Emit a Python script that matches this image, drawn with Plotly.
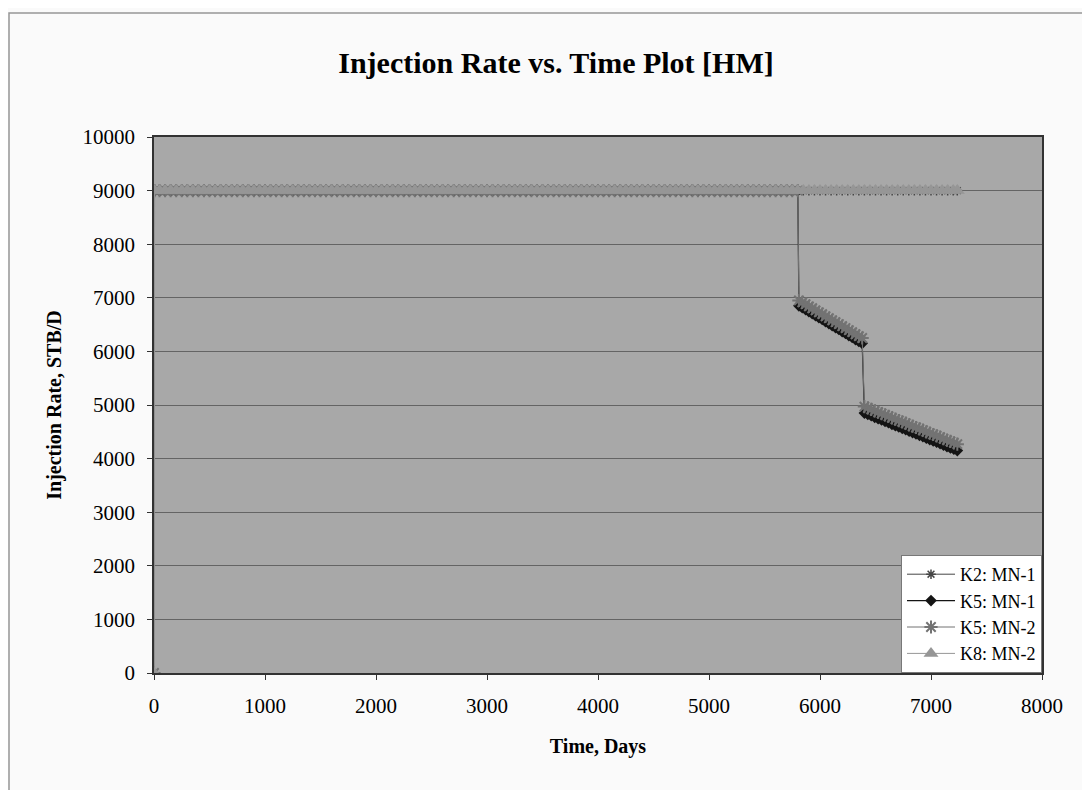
import plotly.graph_objects as go

# ---------------- data ----------------
# days for the series that stay at 9000 until the end of history
days_long = [0, 5,
             50, 100, 150, 200, 250, 300, 350, 400, 450, 500,
             550, 600, 650, 700, 750, 800, 850, 900, 950, 1000,
             1050, 1100, 1150, 1200, 1250, 1300, 1350, 1400, 1450, 1500,
             1550, 1600, 1650, 1700, 1750, 1800, 1850, 1900, 1950, 2000,
             2050, 2100, 2150, 2200, 2250, 2300, 2350, 2400, 2450, 2500,
             2550, 2600, 2650, 2700, 2750, 2800, 2850, 2900, 2950, 3000,
             3050, 3100, 3150, 3200, 3250, 3300, 3350, 3400, 3450, 3500,
             3550, 3600, 3650, 3700, 3750, 3800, 3850, 3900, 3950, 4000,
             4050, 4100, 4150, 4200, 4250, 4300, 4350, 4400, 4450, 4500,
             4550, 4600, 4650, 4700, 4750, 4800, 4850, 4900, 4950, 5000,
             5050, 5100, 5150, 5200, 5250, 5300, 5350, 5400, 5450, 5500,
             5550, 5600, 5650, 5700, 5750, 5800, 5850, 5900, 5950, 6000,
             6050, 6100, 6150, 6200, 6250, 6300, 6350, 6400, 6450, 6500,
             6550, 6600, 6650, 6700, 6750, 6800, 6850, 6900, 6950, 7000,
             7050, 7100, 7150, 7200, 7237]

k2_mn1_rate = [9000, 9000, 9000, 9000, 9000, 9000, 9000, 9000, 9000, 9000,
               9000, 9000, 9000, 9000, 9000, 9000, 9000, 9000, 9000, 9000,
               9000, 9000, 9000, 9000, 9000, 9000, 9000, 9000, 9000, 9000,
               9000, 9000, 9000, 9000, 9000, 9000, 9000, 9000, 9000, 9000,
               9000, 9000, 9000, 9000, 9000, 9000, 9000, 9000, 9000, 9000,
               9000, 9000, 9000, 9000, 9000, 9000, 9000, 9000, 9000, 9000,
               9000, 9000, 9000, 9000, 9000, 9000, 9000, 9000, 9000, 9000,
               9000, 9000, 9000, 9000, 9000, 9000, 9000, 9000, 9000, 9000,
               9000, 9000, 9000, 9000, 9000, 9000, 9000, 9000, 9000, 9000,
               9000, 9000, 9000, 9000, 9000, 9000, 9000, 9000, 9000, 9000,
               9000, 9000, 9000, 9000, 9000, 9000, 9000, 9000, 9000, 9000,
               9000, 9000, 9000, 9000, 9000, 9000, 9000, 9000, 9000, 9000,
               9000, 9000, 9000, 9000, 9000, 9000, 9000, 9000, 9000, 9000,
               9000, 9000, 9000, 9000, 9000, 9000, 9000, 9000, 9000, 9000,
               9000, 9000, 9000, 9000, 9000, 9000, 9000]

k8_mn2_rate = [0, 9000, 9000, 9000, 9000, 9000, 9000, 9000, 9000, 9000,
               9000, 9000, 9000, 9000, 9000, 9000, 9000, 9000, 9000, 9000,
               9000, 9000, 9000, 9000, 9000, 9000, 9000, 9000, 9000, 9000,
               9000, 9000, 9000, 9000, 9000, 9000, 9000, 9000, 9000, 9000,
               9000, 9000, 9000, 9000, 9000, 9000, 9000, 9000, 9000, 9000,
               9000, 9000, 9000, 9000, 9000, 9000, 9000, 9000, 9000, 9000,
               9000, 9000, 9000, 9000, 9000, 9000, 9000, 9000, 9000, 9000,
               9000, 9000, 9000, 9000, 9000, 9000, 9000, 9000, 9000, 9000,
               9000, 9000, 9000, 9000, 9000, 9000, 9000, 9000, 9000, 9000,
               9000, 9000, 9000, 9000, 9000, 9000, 9000, 9000, 9000, 9000,
               9000, 9000, 9000, 9000, 9000, 9000, 9000, 9000, 9000, 9000,
               9000, 9000, 9000, 9000, 9000, 9000, 9000, 9000, 9000, 9000,
               9000, 9000, 9000, 9000, 9000, 9000, 9000, 9000, 9000, 9000,
               9000, 9000, 9000, 9000, 9000, 9000, 9000, 9000, 9000, 9000,
               9000, 9000, 9000, 9000, 9000, 9000, 9000]

# days for the series that are cut back after ~5800 days
days_cut = [0, 5,
            50, 100, 150, 200, 250, 300, 350, 400, 450, 500,
            550, 600, 650, 700, 750, 800, 850, 900, 950, 1000,
            1050, 1100, 1150, 1200, 1250, 1300, 1350, 1400, 1450, 1500,
            1550, 1600, 1650, 1700, 1750, 1800, 1850, 1900, 1950, 2000,
            2050, 2100, 2150, 2200, 2250, 2300, 2350, 2400, 2450, 2500,
            2550, 2600, 2650, 2700, 2750, 2800, 2850, 2900, 2950, 3000,
            3050, 3100, 3150, 3200, 3250, 3300, 3350, 3400, 3450, 3500,
            3550, 3600, 3650, 3700, 3750, 3800, 3850, 3900, 3950, 4000,
            4050, 4100, 4150, 4200, 4250, 4300, 4350, 4400, 4450, 4500,
            4550, 4600, 4650, 4700, 4750, 4800, 4850, 4900, 4950, 5000,
            5050, 5100, 5150, 5200, 5250, 5300, 5350, 5400, 5450, 5500,
            5550, 5600, 5650, 5700, 5750, 5800,
            5810, 5840, 5870, 5900, 5930, 5960, 5990, 6020, 6050, 6080,
            6110, 6140, 6170, 6200, 6230, 6260, 6290, 6320, 6350, 6380,
            6400, 6431, 6462, 6493, 6524, 6555, 6586, 6617, 6648, 6679,
            6710, 6741, 6772, 6803, 6834, 6865, 6896, 6927, 6958, 6989,
            7020, 7051, 7082, 7113, 7144, 7175, 7206, 7237]

k5_mn1_rate = [9000, 9000, 9000, 9000, 9000, 9000, 9000, 9000, 9000, 9000,
               9000, 9000, 9000, 9000, 9000, 9000, 9000, 9000, 9000, 9000,
               9000, 9000, 9000, 9000, 9000, 9000, 9000, 9000, 9000, 9000,
               9000, 9000, 9000, 9000, 9000, 9000, 9000, 9000, 9000, 9000,
               9000, 9000, 9000, 9000, 9000, 9000, 9000, 9000, 9000, 9000,
               9000, 9000, 9000, 9000, 9000, 9000, 9000, 9000, 9000, 9000,
               9000, 9000, 9000, 9000, 9000, 9000, 9000, 9000, 9000, 9000,
               9000, 9000, 9000, 9000, 9000, 9000, 9000, 9000, 9000, 9000,
               9000, 9000, 9000, 9000, 9000, 9000, 9000, 9000, 9000, 9000,
               9000, 9000, 9000, 9000, 9000, 9000, 9000, 9000, 9000, 9000,
               9000, 9000, 9000, 9000, 9000, 9000, 9000, 9000, 9000, 9000,
               9000, 9000, 9000, 9000, 9000, 9000, 9000, 9000,
               6850, 6815, 6780, 6740, 6705, 6665, 6630, 6595, 6555, 6520,
               6480, 6445, 6410, 6370, 6335, 6295, 6260, 6220, 6185, 6150,
               4850, 4825, 4800, 4770, 4745, 4720, 4695, 4670, 4640, 4615,
               4590, 4565, 4540, 4510, 4485, 4460, 4435, 4410, 4380, 4355,
               4330, 4305, 4280, 4250, 4225, 4200, 4175, 4150]

k5_mn2_rate = [0, 9000, 9000, 9000, 9000, 9000, 9000, 9000, 9000, 9000,
               9000, 9000, 9000, 9000, 9000, 9000, 9000, 9000, 9000, 9000,
               9000, 9000, 9000, 9000, 9000, 9000, 9000, 9000, 9000, 9000,
               9000, 9000, 9000, 9000, 9000, 9000, 9000, 9000, 9000, 9000,
               9000, 9000, 9000, 9000, 9000, 9000, 9000, 9000, 9000, 9000,
               9000, 9000, 9000, 9000, 9000, 9000, 9000, 9000, 9000, 9000,
               9000, 9000, 9000, 9000, 9000, 9000, 9000, 9000, 9000, 9000,
               9000, 9000, 9000, 9000, 9000, 9000, 9000, 9000, 9000, 9000,
               9000, 9000, 9000, 9000, 9000, 9000, 9000, 9000, 9000, 9000,
               9000, 9000, 9000, 9000, 9000, 9000, 9000, 9000, 9000, 9000,
               9000, 9000, 9000, 9000, 9000, 9000, 9000, 9000, 9000, 9000,
               9000, 9000, 9000, 9000, 9000, 9000, 9000, 9000,
               6950, 6915, 6880, 6840, 6805, 6765, 6730, 6695, 6655, 6620,
               6580, 6545, 6510, 6470, 6435, 6395, 6360, 6320, 6285, 6250,
               4970, 4945, 4920, 4890, 4865, 4840, 4815, 4790, 4760, 4735,
               4710, 4685, 4660, 4630, 4605, 4580, 4555, 4530, 4500, 4475,
               4450, 4425, 4400, 4370, 4345, 4320, 4295, 4270]

x_ticks = [0, 1000, 2000, 3000, 4000, 5000, 6000, 7000, 8000]
y_ticks = [0, 1000, 2000, 3000, 4000, 5000, 6000, 7000, 8000, 9000, 10000]

assert len(days_long) == len(k2_mn1_rate) == len(k8_mn2_rate)
assert len(days_cut) == len(k5_mn1_rate) == len(k5_mn2_rate)

# ---------------- figure ----------------
FONT = "Liberation Serif, Times New Roman, serif"

fig = go.Figure()
fig.add_trace(go.Scatter(
    x=days_long, y=k2_mn1_rate, name="K2: MN-1", mode="lines+markers",
    line=dict(color="rgb(70,70,70)", width=1),
    marker=dict(symbol="asterisk-open", size=8, color="rgb(70,70,70)",
                line=dict(color="rgb(70,70,70)", width=1.5))))
fig.add_trace(go.Scatter(
    x=days_cut, y=k5_mn1_rate, name="K5: MN-1", mode="lines+markers",
    line=dict(color="rgb(20,20,20)", width=1.2),
    marker=dict(symbol="diamond", size=9, color="rgb(20,20,20)")))
fig.add_trace(go.Scatter(
    x=days_cut, y=k5_mn2_rate, name="K5: MN-2", mode="lines+markers",
    line=dict(color="rgb(115,115,115)", width=1),
    marker=dict(symbol="asterisk-open", size=11, color="rgb(115,115,115)",
                line=dict(color="rgb(115,115,115)", width=2))))
fig.add_trace(go.Scatter(
    x=days_long, y=k8_mn2_rate, name="K8: MN-2", mode="lines+markers",
    line=dict(color="rgb(150,150,150)", width=1),
    marker=dict(symbol="triangle-up", size=13, color="rgb(150,150,150)")))

# figure sits 8 px inside the page (default body margin)
W, H = 1082, 782
L, T = 146, 129
PW, PH = 888, 536

fig.update_layout(
    width=W, height=H,
    margin=dict(l=L, r=W - L - PW, t=T, b=H - T - PH),
    paper_bgcolor="rgb(250,250,250)",
    plot_bgcolor="rgb(168,168,168)",
    font=dict(family=FONT, color="black", size=21),
    title=dict(text="<b>Injection Rate vs. Time Plot [HM]</b>",
               x=(556 - 8) / W, xref="container", xanchor="center",
               y=1 - (62 - 8) / H, yref="container", yanchor="middle",
               font=dict(family=FONT, size=30, color="black")),
    showlegend=True,
    legend=dict(x=1, xanchor="right", y=0, yanchor="bottom",
                bgcolor="white", bordercolor="rgb(120,120,120)", borderwidth=1,
                font=dict(family=FONT, size=18, color="black"),
                itemwidth=48, tracegroupgap=0),
)

fig.update_xaxes(
    range=[0, 8000], tickvals=x_ticks, ticktext=[str(v) for v in x_ticks],
    showgrid=False, zeroline=False,
    showline=True, linecolor="rgb(50,50,50)", linewidth=1.5, mirror=True,
    ticks="outside", ticklen=5, tickcolor="rgb(50,50,50)",
    ticklabelstandoff=8,
    tickfont=dict(family=FONT, size=21, color="black"),
    title=dict(text="<b>Time, Days</b>", standoff=22,
               font=dict(family=FONT, size=20, color="black")),
)
fig.update_yaxes(
    range=[0, 10000], tickvals=y_ticks, ticktext=[str(v) for v in y_ticks],
    showgrid=True, gridcolor="rgb(100,100,100)", gridwidth=1, zeroline=False,
    showline=True, linecolor="rgb(50,50,50)", linewidth=1.5, mirror=True,
    ticks="outside", ticklen=5, tickcolor="rgb(50,50,50)",
    ticklabelstandoff=8,
    tickfont=dict(family=FONT, size=21, color="black"),
    title=dict(text="<b>Injection Rate, STB/D</b>", standoff=16,
               font=dict(family=FONT, size=20, color="black")),
)

# chart-area frame (outer border of the original chart object)
fig.add_shape(type="rect", xref="paper", yref="paper",
              x0=(9 - 8 - L) / PW, x1=(1100 - 8 - L) / PW,
              y0=(T + PH - 800) / PH, y1=(T + PH - (13 - 8)) / PH,
              line=dict(color="rgb(150,150,150)", width=1.5),
              fillcolor="rgba(0,0,0,0)", layer="below")

fig.write_html("out.html")
